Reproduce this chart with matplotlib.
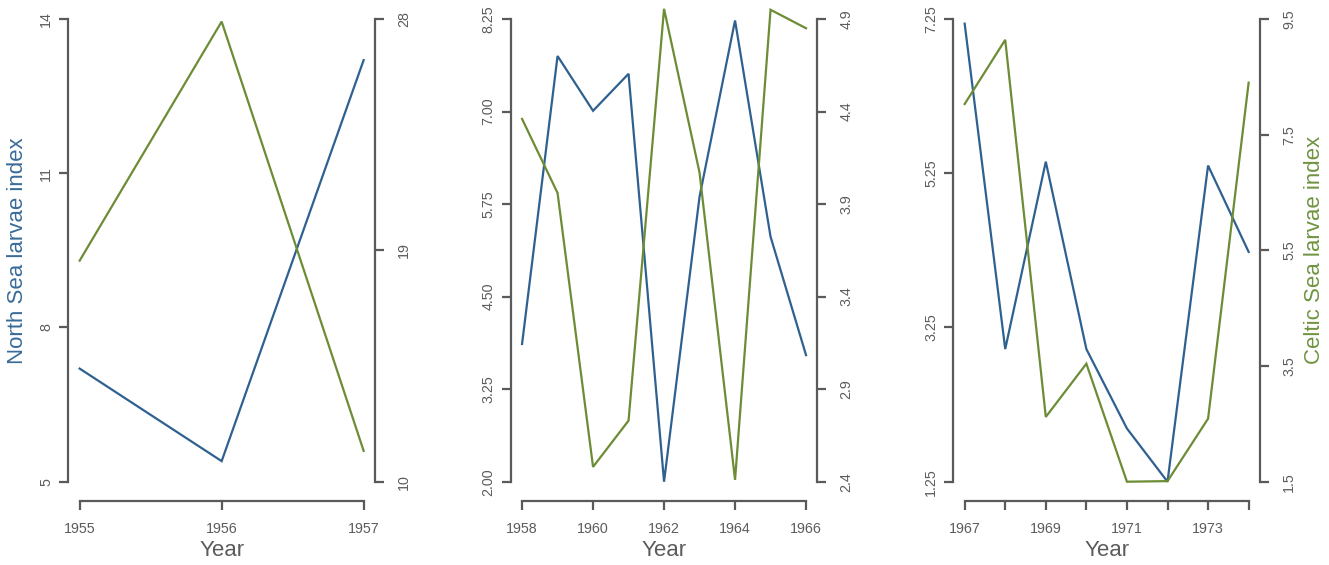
import matplotlib
matplotlib.use("Agg")
import matplotlib.pyplot as plt

plt.rcParams['font.family'] = ['Liberation Sans', 'DejaVu Sans']

# ---------------- data ----------------
years_1 = [1955, 1956, 1957]
north_1 = [7.2, 5.4, 13.2]
celtic_1 = [18.6, 27.9, 11.2]

years_2 = [1958, 1959, 1960, 1961, 1962, 1963, 1964, 1965, 1966]
north_2 = [3.86, 7.75, 7.01, 7.51, 2.0, 5.85, 8.23, 5.31, 3.71]
celtic_2 = [4.36, 3.96, 2.48, 2.73, 4.955, 4.07, 2.41, 4.95, 4.85]

years_3 = [1967, 1968, 1969, 1970, 1971, 1972, 1973, 1974]
north_3 = [7.19, 2.97, 5.40, 2.97, 1.94, 1.25, 5.35, 4.23]
celtic_3 = [8.03, 9.14, 2.62, 3.54, 1.5, 1.51, 2.59, 8.40]

left_ticks_1 = [5, 8, 11, 14]
right_ticks_1 = [10, 19, 28]
left_ticks_2 = [2.00, 3.25, 4.50, 5.75, 7.00, 8.25]
right_ticks_2 = [2.4, 2.9, 3.4, 3.9, 4.4, 4.9]
left_ticks_3 = [1.25, 3.25, 5.25, 7.25]
right_ticks_3 = [1.5, 3.5, 5.5, 7.5, 9.5]

xticks_1 = [1955, 1956, 1957]
xlabels_1 = ["1955", "1956", "1957"]
xticks_2 = [1958, 1960, 1962, 1964, 1966]
xlabels_2 = ["1958", "1960", "1962", "1964", "1966"]
xticks_3 = [1967, 1968, 1969, 1970, 1971, 1972, 1973, 1974]
xlabels_3 = ["1967", "", "1969", "", "1971", "", "1973", ""]

left_fmt = ["{:g}", "{:.2f}", "{:.2f}"]
right_fmt = ["{:g}", "{:.1f}", "{:.1f}"]

BLUE = "#2f6190"
GREEN = "#6c8c35"
BLUE_TXT = "#3a6b98"
GREEN_TXT = "#6f9440"
AX = "#5a5a5a"
TXT = "#5c5c5c"

W, H = 1329, 565
fig = plt.figure(figsize=(W / 100, H / 100), dpi=100)

panels = [
    (years_1, north_1, celtic_1, left_ticks_1, right_ticks_1, xticks_1, xlabels_1),
    (years_2, north_2, celtic_2, left_ticks_2, right_ticks_2, xticks_2, xlabels_2),
    (years_3, north_3, celtic_3, left_ticks_3, right_ticks_3, xticks_3, xlabels_3),
]
lefts_px = [68.3, 510.7, 953.3]
width_px = 306.7
top_px, bot_px = 19.0, 481.7
px2pt = 72 / 100

tick_len = 9 * px2pt
lab_size = 10.3
title_size = 16

for i, (yrs, nv, cv, lt, rt, xt, xl) in enumerate(panels):
    l = lefts_px[i] / W
    b = (H - bot_px) / H
    w = width_px / W
    h = (bot_px - top_px) / H
    ax = fig.add_axes([l, b, w, h])
    ax2 = ax.twinx()
    ax.patch.set_alpha(0)
    ax2.patch.set_alpha(0)

    ax.plot(yrs, nv, color=BLUE, lw=1.6, clip_on=False, solid_joinstyle='miter')
    ax2.plot(yrs, cv, color=GREEN, lw=1.6, clip_on=False, solid_joinstyle='miter')

    span = yrs[-1] - yrs[0]
    ax.set_xlim(yrs[0] - 0.04 * span, yrs[-1] + 0.04 * span)
    ax.set_ylim(lt[0], lt[-1])
    ax2.set_ylim(rt[0], rt[-1])

    for s in ["top", "right"]:
        ax.spines[s].set_visible(False)
    for s in ["top", "left", "bottom"]:
        ax2.spines[s].set_visible(False)

    ax.spines["left"].set_bounds(lt[0], lt[-1])
    ax.spines["bottom"].set_position(("outward", 19 * px2pt))
    ax.spines["bottom"].set_bounds(yrs[0], yrs[-1])
    ax2.spines["right"].set_bounds(rt[0], rt[-1])
    for sp in [ax.spines["left"], ax.spines["bottom"], ax2.spines["right"]]:
        sp.set_color(AX)
        sp.set_linewidth(1.6)

    ax.set_xticks(xt)
    ax.set_xticklabels(xl)
    ax.set_yticks(lt)
    ax.set_yticklabels([left_fmt[i].format(v) for v in lt])
    ax2.set_yticks(rt)
    ax2.set_yticklabels([right_fmt[i].format(v) for v in rt])

    ax.tick_params(axis='x', length=tick_len, width=1.6, color=AX, labelsize=lab_size,
                   labelcolor=TXT, pad=12 * px2pt)
    ax.tick_params(axis='y', length=tick_len, width=1.6, color=AX, labelsize=lab_size,
                   labelcolor=TXT, pad=6 * px2pt)
    ax2.tick_params(axis='y', length=tick_len, width=1.6, color=AX, labelsize=lab_size,
                    labelcolor=TXT, pad=13 * px2pt)
    for t in ax.get_yticklabels():
        t.set_rotation(90)
        t.set_va('center')
        t.set_ha('right')
    for t in ax2.get_yticklabels():
        t.set_rotation(90)
        t.set_va('center')
        t.set_ha('left')

    ax.set_xlabel("Year", fontsize=title_size, color=TXT, labelpad=3)

    if i == 0:
        ax.set_ylabel("North Sea larvae index", fontsize=title_size, color=BLUE_TXT, labelpad=8)
    if i == 2:
        ax2.set_ylabel("Celtic Sea larvae index", fontsize=title_size, color=GREEN_TXT,
                       labelpad=6)

fig.savefig("out.png", dpi=100)
